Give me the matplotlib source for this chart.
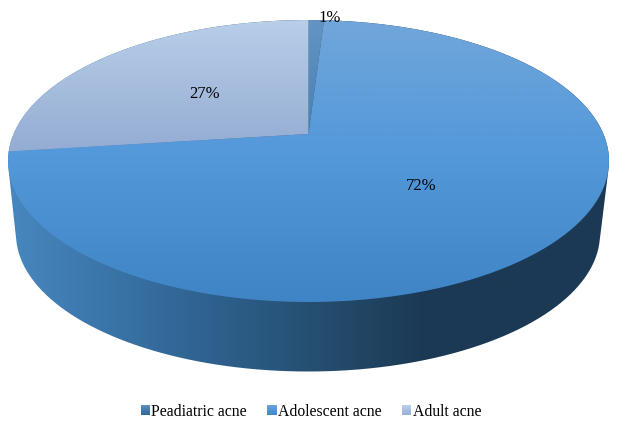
import numpy as np
import matplotlib
matplotlib.use("Agg")
import matplotlib.pyplot as plt
from matplotlib.path import Path
from matplotlib.patches import Patch, Rectangle
from matplotlib.legend_handler import HandlerBase
from matplotlib.colors import to_rgb
from matplotlib.transforms import Affine2D

categories = ["Peadiatric acne", "Adolescent acne", "Adult acne"]
values = [1, 72, 27]
label_pos = [(330, 18), (421, 186), (205, 94)]
# top-surface vertical gradients (top colour, bottom colour over y range)
top_grad = [[(20, "#6394c4"), (134, "#4a80b3")],
            [(20, "#71a6da"), (150, "#5499da"), (302, "#3f85c6")],
            [(20, "#b8cee9"), (152, "#94acd2")]]
wall_grad = [(8, "#4887bf"), (100, "#3b76aa"), (200, "#2f6391"), (308, "#265072"),
             (425, "#1b3954"), (610, "#1c3a54")]
legend_grad = [("#5a8fbf", "#33689a"), ("#6aa5de", "#4188ca"), ("#bcd0ea", "#98b0d6")]

plt.rcParams["font.family"] = ["Liberation Serif", "DejaVu Serif"]
W, H = 619, 423
fig = plt.figure(figsize=(W / 100, H / 100), dpi=100)
ax = fig.add_axes([0, 0, 1, 1])

wedges, _ = ax.pie(values, startangle=90, counterclock=False, radius=1.0)
polys = []
for w in wedges:
    p = w.get_path().transformed(w.get_patch_transform() + Affine2D().scale(2000))
    polys.append(p.to_polygons(closed_only=True)[0] / 2000)
    w.set_visible(False)
ax.set_aspect("auto")
ax.set_xlim(0, W)
ax.set_ylim(H, 0)
ax.axis("off")

# perspective view of the unit disk
CX, CY, A, B, AY = 308.5, 161.0, 300.5, 141.0, 27.0
K = AY / B
def project(xy):
    x, y = xy[:, 0], xy[:, 1]
    d = 1 + K * y
    return np.c_[CX + A * np.sqrt(1 - K**2) * x / d, CY - (B * y + AY) / d]

def gradient(stops, horizontal=False, n=256):
    pos = np.array([s[0] for s in stops], float)
    col = np.array([to_rgb(s[1]) for s in stops])
    t = np.linspace(pos[0], pos[-1], n)
    arr = np.stack([np.interp(t, pos, col[:, i]) for i in range(3)], axis=-1)
    return (arr[None, :, :] if horizontal else arr[:, None, :]), pos[0], pos[-1]

def hull(pts):
    pts = sorted(map(tuple, pts))
    def half(seq):
        out = []
        for p in seq:
            while len(out) > 1 and ((out[-1][0]-out[-2][0])*(p[1]-out[-2][1])
                                    - (out[-1][1]-out[-2][1])*(p[0]-out[-2][0])) <= 0:
                out.pop()
            out.append(p)
        return out[:-1]
    return np.array(half(pts) + half(pts[::-1]))

# side wall
th = np.linspace(0, 2 * np.pi, 361)
upper = np.c_[CX + A * np.cos(th), CY + B * np.sin(th)]
lower = np.c_[308 + 292 * np.cos(th), 234 + 137.5 * np.sin(th)]
h = hull(np.vstack([upper, lower]))
wall = Path(np.vstack([h, h[:1]]))
arr, x0, x1 = gradient(wall_grad, horizontal=True)
im = ax.imshow(arr, extent=(x0, x1, H, 0), aspect="auto", interpolation="bilinear", zorder=1)
im.set_clip_path(wall, transform=ax.transData)

# top surface
for poly, stops in zip(polys, top_grad):
    shape = project(poly)
    arr, y0, y1 = gradient(stops)
    im = ax.imshow(arr, extent=(0, W, y1, y0), aspect="auto", interpolation="bilinear", zorder=2)
    im.set_clip_path(Path(shape), transform=ax.transData)
ax.set_xlim(0, W)
ax.set_ylim(H, 0)

for v, (x, y) in zip(values, label_pos):
    ax.text(x, y, f"{v}%", ha="center", va="center", fontsize=12, color="black", zorder=5)

class GradHandler(HandlerBase):
    def create_artists(self, legend, orig, xd, yd, w, h, fs, trans):
        c0, c1 = (np.array(to_rgb(c)) for c in orig.grad)
        n = 9
        return [Rectangle((-xd, -yd + h * (n - 1 - i) / n), w, h / n + 0.2,
                          fc=c0 + (c1 - c0) * i / (n - 1), ec="none", transform=trans)
                for i in range(n)]

handles = []
for c, g in zip(categories, legend_grad):
    p = Patch(facecolor=g[1], label=c)
    p.grad = g
    handles.append(p)
ax.legend(handles=handles, loc="center", bbox_to_anchor=(311 / W, 1 - 411.5 / H), ncol=3,
          frameon=False, fontsize=11.3, handler_map={Patch: GradHandler()},
          handlelength=0.58, handleheight=0.62, handletextpad=0.1, columnspacing=1.3,
          borderpad=0, borderaxespad=0)
fig.savefig("out.png", dpi=100)
